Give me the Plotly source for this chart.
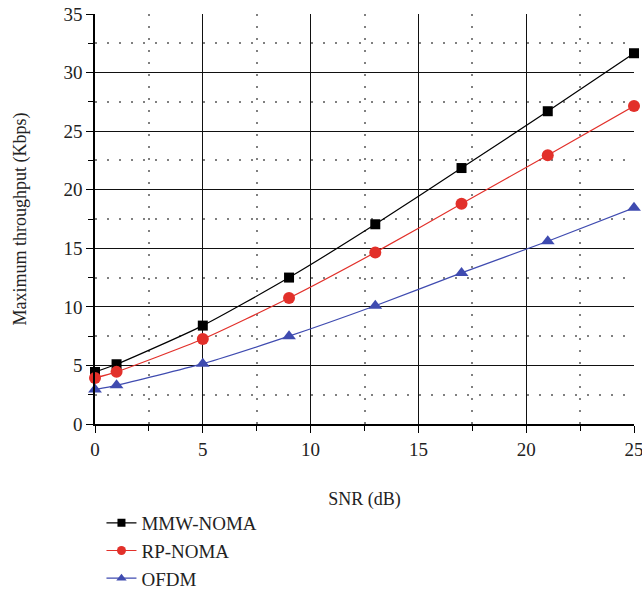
import plotly.graph_objects as go

# SNR sample points (dB)
snr = [0, 1, 5, 9, 13, 17, 21, 25]

# Maximum throughput (Kbps) for each scheme
mmw_noma = [4.44, 5.1, 8.4, 12.5, 17.05, 21.85, 26.7, 31.65]
rp_noma = [3.93, 4.45, 7.25, 10.75, 14.65, 18.8, 22.95, 27.15]
ofdm = [2.94, 3.3, 5.15, 7.5, 10.1, 12.9, 15.6, 18.45]

series_names = ["MMW-NOMA", "RP-NOMA", "OFDM"]
series_colors = ["#000000", "#e2302a", "#3f4bb0"]
series_symbols = ["square", "circle", "triangle-up"]
series_sizes = [10, 12, 12]
legend_sizes = [8, 9, 9]

FONT = "Liberation Serif, Times New Roman, serif"

fig = go.Figure()
for name, vals, col, sym, sz in zip(series_names, [mmw_noma, rp_noma, ofdm],
                                    series_colors, series_symbols, series_sizes):
    fig.add_trace(go.Scatter(
        x=snr, y=vals, name=name, mode="lines+markers", showlegend=False,
        line=dict(color=col, width=1.2, shape="spline", smoothing=0.6),
        marker=dict(symbol=sym, size=sz, color=col),
        cliponaxis=False,
    ))

# legend entries with smaller glyphs
for name, col, sym, sz in zip(series_names, series_colors, series_symbols, legend_sizes):
    fig.add_trace(go.Scatter(
        x=[None], y=[None], name=name, mode="lines+markers",
        line=dict(color=col, width=1.2),
        marker=dict(symbol=sym, size=sz, color=col),
    ))

axis_common = dict(
    showline=True, linecolor="#000000", linewidth=1.5,
    showgrid=True, gridcolor="#111111", gridwidth=1.2,
    ticks="outside", ticklen=7, tickcolor="#000000", tickwidth=1.2,
    tickfont=dict(family=FONT, size=19, color="#222222"),
    zeroline=False, automargin=False,
    minor=dict(dtick=2.5, showgrid=True, gridcolor="#808080", gridwidth=1.5,
               griddash="1.5px,10.5px", ticks="outside", ticklen=5,
               tickcolor="#000000", tickwidth=1.2),
)

fig.update_xaxes(
    range=[0, 25], dtick=5, tick0=0, ticklabeloverflow="allow",
    title=dict(text="SNR (dB)", font=dict(family=FONT, size=18, color="#222222"),
               standoff=34),
    **axis_common,
)
fig.update_yaxes(
    range=[0, 35], dtick=5, tick0=0,
    title=dict(text="Maximum throughput (Kbps)",
               font=dict(family=FONT, size=18, color="#222222"), standoff=32),
    **axis_common,
)

fig.update_layout(
    width=642, height=593,
    font=dict(family=FONT, color="#222222"),
    margin=dict(l=95, r=8, t=14, b=169, autoexpand=False),
    plot_bgcolor="#ffffff", paper_bgcolor="#ffffff",
    showlegend=True,
    legend=dict(
        x=0.012, xanchor="left", y=-0.195, yanchor="top",
        font=dict(family=FONT, size=19, color="#222222"),
        bgcolor="rgba(0,0,0,0)", tracegroupgap=0, itemwidth=30,
    ),
)

fig.write_html("out.html")
